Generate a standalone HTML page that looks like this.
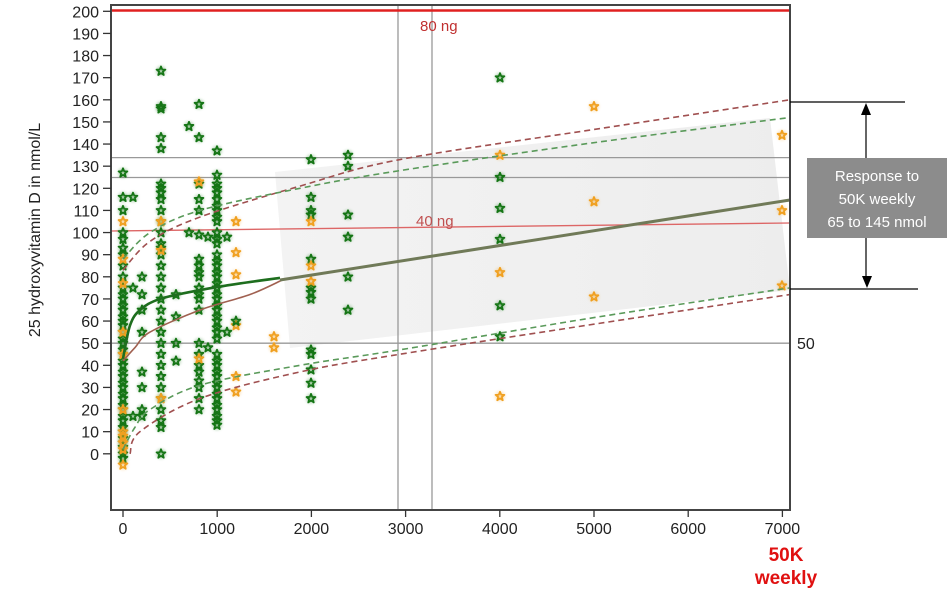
<!DOCTYPE html>
<html><head><meta charset="utf-8"><style>
body{margin:0;background:#fff;}
svg{display:block;font-family:"Liberation Sans",Arial,sans-serif;}
</style></head><body>
<svg id="s" width="948" height="594" viewBox="0 0 948 594" xmlns="http://www.w3.org/2000/svg">
<defs>
<symbol id="st" viewBox="-5 -5 10 10"><path d="M0,-4.2 L1.1,-1.4 4,-1.3 1.7,0.6 2.5,3.6 0,1.9 -2.5,3.6 -1.7,0.6 -4,-1.3 -1.1,-1.4Z" fill="none" stroke-width="1.6" stroke-linejoin="round"/></symbol>
<filter id="gl" x="-50%" y="-50%" width="200%" height="200%"><feGaussianBlur stdDeviation="1.5"/></filter>
<linearGradient id="sh" x1="0" y1="0" x2="1" y2="0"><stop offset="0" stop-color="#f3f3f3"/><stop offset="1" stop-color="#ededed"/></linearGradient>
</defs>
<polygon points="275,172 770,118 790,290 290,348" fill="url(#sh)"/>
<g id="grid" stroke="#999" stroke-width="1.3">
<line x1="111" y1="157.6" x2="790" y2="157.6"/>
<line x1="111" y1="177.5" x2="790" y2="177.5"/>
<line x1="111" y1="343.2" x2="790" y2="343.2"/>
<line x1="398" y1="5" x2="398" y2="510"/>
<line x1="432" y1="5" x2="432" y2="510"/>
</g>
<line x1="111" y1="231" x2="790" y2="223" stroke="#d66" stroke-width="1.3"/>
<line x1="111" y1="10.5" x2="790" y2="10.5" stroke="#e02020" stroke-width="2.5"/>
<text x="420" y="31" font-size="15" fill="#c03030">80 ng</text>
<text x="416" y="226" font-size="15" fill="#c05050">40 ng</text>
<g id="pts"></g>
<g fill="none" stroke-width="1.6" stroke-dasharray="6,4">
<path id="ur" stroke="#a05050"/>
<path id="ug" stroke="#5a9a5a"/>
<path id="lg" stroke="#5a9a5a"/>
<path id="lr" stroke="#a05050"/>
</g>
<path id="fr" fill="none" stroke="#a06050" stroke-width="1.6"/>
<path id="fg" fill="none" stroke="#1e6e1e" stroke-width="2.6"/>
<path d="M280,280 L790,200" fill="none" stroke="#707a58" stroke-width="3"/>
<rect x="111" y="5" width="679" height="505" fill="none" stroke="#444" stroke-width="2"/>
<g id="ax" font-size="16" fill="#222"></g>
<text x="40" y="230" font-size="16" fill="#222" text-anchor="middle" transform="rotate(-90 40 230)">25 hydroxyvitamin D in nmol/L</text>
<text x="797" y="349" font-size="16" fill="#222">50</text>
<text x="786" y="561" font-size="19" font-weight="bold" fill="#e01010" text-anchor="middle">50K</text>
<text x="786" y="584" font-size="19" font-weight="bold" fill="#e01010" text-anchor="middle">weekly</text>
<line x1="790" y1="102" x2="905" y2="102" stroke="#000" stroke-width="1.2"/>
<line x1="790" y1="289" x2="918" y2="289" stroke="#000" stroke-width="1.2"/>
<line x1="866" y1="112" x2="866" y2="279" stroke="#000" stroke-width="1.2"/>
<polygon points="866,103 861,115 871,115" fill="#000"/>
<polygon points="867,288 862,276 872,276" fill="#000"/>
<rect x="807" y="158" width="140" height="80" fill="#8c8c8c"/>
<text x="877" y="181" font-size="15" fill="#fff" text-anchor="middle">Response to</text>
<text x="877" y="204" font-size="15" fill="#fff" text-anchor="middle">50K weekly</text>
<text x="877" y="227" font-size="15" fill="#fff" text-anchor="middle">65 to 145 nmol</text>
</svg>
<script>
var NS="http://www.w3.org/2000/svg";
function Y(v){return 453.8-2.2125*v;}
var ax=document.getElementById("ax");
function el(t,a,p){var e=document.createElementNS(NS,t);for(var k in a)e.setAttribute(k,a[k]);(p||ax).appendChild(e);return e;}
for(var v=0;v<=200;v+=10){var y=Y(v);el("line",{x1:103,y1:y,x2:111,y2:y,stroke:"#333","stroke-width":1.3});var t=el("text",{x:99,y:y+6,"text-anchor":"end"});t.textContent=v;}
for(var k=0;k<=7;k++){var x=123+94.2*k;el("line",{x1:x,y1:510,x2:x,y2:517,stroke:"#333","stroke-width":1.3});var t=el("text",{x:x,y:534,"text-anchor":"middle"});t.textContent=k*1000;}
function path(id,pts){
 var pp=pts.map(function(p){return [p[0],Y(p[1])];});
 var d="M"+pp[0][0]+","+pp[0][1];
 for(var i=0;i<pp.length-1;i++){var p0=pp[i-1]||pp[i],p1=pp[i],p2=pp[i+1],p3=pp[i+2]||p2;
 d+="C"+(p1[0]+(p2[0]-p0[0])/6)+","+(p1[1]+(p2[1]-p0[1])/6)+" "+(p2[0]-(p3[0]-p1[0])/6)+","+(p2[1]-(p3[1]-p1[1])/6)+" "+p2[0]+","+p2[1];}
 document.getElementById(id).setAttribute("d",d);}
path("ur",[[123,83],[150,96],[200,107],[300,121],[400,133],[600,147],[790,160]]);
path("ug",[[123,88],[150,100],[200,110],[300,120],[400,128],[600,141],[790,152]]);
path("lg",[[123,2],[135,12],[150,20],[200,31],[300,40],[400,47],[600,62],[790,75]]);
path("lr",[[130,0],[140,10],[200,25],[300,37],[400,45],[600,59],[790,72]]);
path("fg",[[123,43],[130,58],[140,65],[160,70],[200,74],[240,77],[280,79.5]]);
path("fr",[[123,42],[135,48],[150,55],[200,65],[250,72],[282,78.5]]);
var G="#157515",O="#f0a020";
var data=[
[123,G,[127,116,110,100,97,93,90,85,80,75,72,70,67,65,62,60,58,55,52,50,47,45,42,40,37,35,32,30,27,25,22,20,17,15,12,10,7,5,3,0,-2]],
[123,O,[105,88,77,55,45,20,10,8,5,2,-5]],
[133,G,[116,75,17]],
[142,G,[80,72,65,55,37,30,17,20]],
[161,G,[173,157,156,143,138,122,120,118,115,110,105,100,95,93,90,85,80,75,70,65,60,55,50,45,40,35,30,25,20,15,12,0]],
[161,O,[92,105,25]],
[176,G,[50,42,72,62]],
[189,G,[148,100]],
[199,G,[158,143,122,115,110,99,88,85,82,80,75,72,70,65,50,45,40,37,33,30,25,20]],
[199,O,[123,43]],
[208,G,[98,48]],
[217,G,[137,126,122,120,118,115,112,110,107,105,100,97,95,90,87,85,82,80,77,75,72,70,67,65,62,60,57,55,52,45,42,40,37,35,32,30,27,25,22,20,17,15,13]],
[227,G,[98,55]],
[236,O,[105,91,81,58,35,28]],[236,G,[60]],
[274,O,[53,48]],
[311,G,[133,116,110,108,88,75,73,70,47,45,38,32,25]],[311,O,[105,85,78]],
[348,G,[135,130,108,98,80,65]],
[500,G,[170,125,111,97,67,53]],[500,O,[135,82,26]],
[594,O,[157,114,71]],
[782,O,[144,110,76]]];
var g=document.getElementById("pts");
data.forEach(function(c){c[2].forEach(function(v){var y=Y(v);
 el("circle",{cx:c[0],cy:y,r:4.5,fill:c[1],opacity:0.4,filter:"url(#gl)"},g);
 el("use",{href:"#st",x:c[0]-5.5,y:y-5.5,width:11,height:11,stroke:c[1]},g);});});
</script>
</body></html>
